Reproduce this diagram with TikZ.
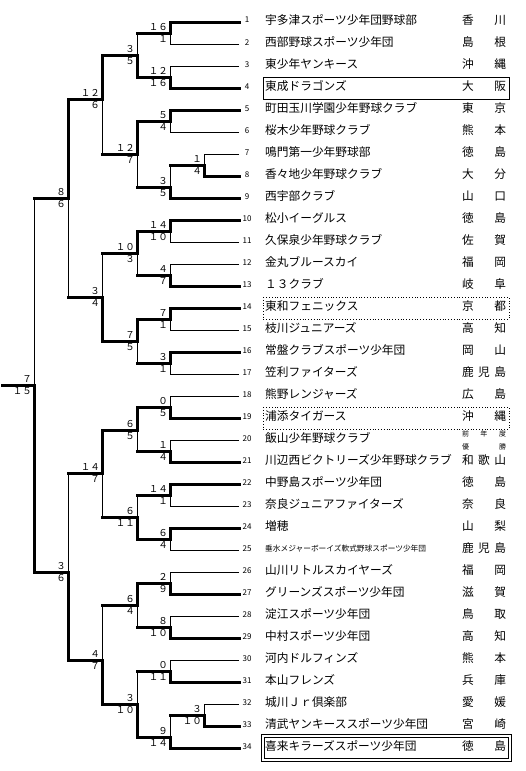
\documentclass[tikz,border=0pt]{standalone}
\usepackage{fontspec}
\setmainfont{Noto Sans CJK JP}
\newcommand{\ken}[1]{\makebox[44pt][s]{#1}}

\begin{document}
\begin{tikzpicture}[
    x=1pt, y=-1pt,
    team/.style={anchor=base west, yshift=-2.5pt, inner sep=0pt, font=\fontsize{11.7}{11.7}\selectfont},
    teamsmall/.style={team, font=\fontsize{7.7}{7.7}\selectfont, yshift=1pt},
    teamno/.style={anchor=base, yshift=-1pt, inner sep=0pt, font=\fontsize{8}{8}\selectfont},
    pref/.style={anchor=base, yshift=-2.5pt, inner sep=0pt, font=\fontsize{11.7}{11.7}\selectfont},
    note/.style={anchor=base, inner sep=0pt, font=\fontsize{7}{7}\selectfont},
    score/.style={inner sep=0pt, font=\fontsize{9.5}{9.5}\selectfont},
    up/.style={score, above left=2pt},
    dn/.style={score, below left=2pt},
    win/.style={line width=3pt, line cap=rect},
    lose/.style={line width=0.9pt},
    dotbox/.style={line width=0.8pt, dotted}
]
\fill[white] (0,0) rectangle (526,771);
\useasboundingbox (0,0) rectangle (526,771);

% Teams: leaf end, number, name, prefecture
\coordinate (l1) at (239,22); \node[teamno] (n1) at (247,22) {1}; \node[team] (t1) at (265,22) {宇多津スポーツ少年団野球部}; \node[pref] (p1) at (484,22) {\ken{香\hfill 川}};
\coordinate (l2) at (239,44); \node[teamno] (n2) at (247,44) {2}; \node[team] (t2) at (265,44) {西部野球スポーツ少年団}; \node[pref] (p2) at (484,44) {\ken{島\hfill 根}};
\coordinate (l3) at (239,66); \node[teamno] (n3) at (247,66) {3}; \node[team] (t3) at (265,66) {東少年ヤンキース}; \node[pref] (p3) at (484,66) {\ken{沖\hfill 縄}};
\coordinate (l4) at (239,88); \node[teamno] (n4) at (247,88) {4}; \node[team] (t4) at (265,88) {東成ドラゴンズ}; \node[pref] (p4) at (484,88) {\ken{大\hfill 阪}};
\coordinate (l5) at (239,110); \node[teamno] (n5) at (247,110) {5}; \node[team] (t5) at (265,110) {町田玉川学園少年野球クラブ}; \node[pref] (p5) at (484,110) {\ken{東\hfill 京}};
\coordinate (l6) at (239,132); \node[teamno] (n6) at (247,132) {6}; \node[team] (t6) at (265,132) {桜木少年野球クラブ}; \node[pref] (p6) at (484,132) {\ken{熊\hfill 本}};
\coordinate (l7) at (239,154); \node[teamno] (n7) at (247,154) {7}; \node[team] (t7) at (265,154) {鳴門第一少年野球部}; \node[pref] (p7) at (484,154) {\ken{徳\hfill 島}};
\coordinate (l8) at (239,176); \node[teamno] (n8) at (247,176) {8}; \node[team] (t8) at (265,176) {香々地少年野球クラブ}; \node[pref] (p8) at (484,176) {\ken{大\hfill 分}};
\coordinate (l9) at (239,198); \node[teamno] (n9) at (247,198) {9}; \node[team] (t9) at (265,198) {西宇部クラブ}; \node[pref] (p9) at (484,198) {\ken{山\hfill 口}};
\coordinate (l10) at (239,220); \node[teamno] (n10) at (247,220) {10}; \node[team] (t10) at (265,220) {松小イーグルス}; \node[pref] (p10) at (484,220) {\ken{徳\hfill 島}};
\coordinate (l11) at (239,242); \node[teamno] (n11) at (247,242) {11}; \node[team] (t11) at (265,242) {久保泉少年野球クラブ}; \node[pref] (p11) at (484,242) {\ken{佐\hfill 賀}};
\coordinate (l12) at (239,264); \node[teamno] (n12) at (247,264) {12}; \node[team] (t12) at (265,264) {金丸ブルースカイ}; \node[pref] (p12) at (484,264) {\ken{福\hfill 岡}};
\coordinate (l13) at (239,286); \node[teamno] (n13) at (247,286) {13}; \node[team] (t13) at (265,286) {１３クラブ}; \node[pref] (p13) at (484,286) {\ken{岐\hfill 阜}};
\coordinate (l14) at (239,308); \node[teamno] (n14) at (247,308) {14}; \node[team] (t14) at (265,308) {東和フェニックス}; \node[pref] (p14) at (484,308) {\ken{京\hfill 都}};
\coordinate (l15) at (239,330); \node[teamno] (n15) at (247,330) {15}; \node[team] (t15) at (265,330) {枝川ジュニアーズ}; \node[pref] (p15) at (484,330) {\ken{高\hfill 知}};
\coordinate (l16) at (239,352); \node[teamno] (n16) at (247,352) {16}; \node[team] (t16) at (265,352) {常盤クラブスポーツ少年団}; \node[pref] (p16) at (484,352) {\ken{岡\hfill 山}};
\coordinate (l17) at (239,374); \node[teamno] (n17) at (247,374) {17}; \node[team] (t17) at (265,374) {笠利ファイターズ}; \node[pref] (p17) at (484,374) {\ken{鹿\hfill 児\hfill 島}};
\coordinate (l18) at (239,396); \node[teamno] (n18) at (247,396) {18}; \node[team] (t18) at (265,396) {熊野レンジャーズ}; \node[pref] (p18) at (484,396) {\ken{広\hfill 島}};
\coordinate (l19) at (239,418); \node[teamno] (n19) at (247,418) {19}; \node[team] (t19) at (265,418) {浦添タイガース}; \node[pref] (p19) at (484,418) {\ken{沖\hfill 縄}};
\coordinate (l20) at (239,440); \node[teamno] (n20) at (247,440) {20}; \node[team] (t20) at (265,440) {飯山少年野球クラブ};
\node[note] (p20a) at (484,436) {\ken{前\hfill 年\hfill 度}}; \node[note] (p20b) at (484,449) {\ken{優\hfill 勝}};
\coordinate (l21) at (239,462); \node[teamno] (n21) at (247,462) {21}; \node[team] (t21) at (265,462) {川辺西ビクトリーズ少年野球クラブ}; \node[pref] (p21) at (484,462) {\ken{和\hfill 歌\hfill 山}};
\coordinate (l22) at (239,484); \node[teamno] (n22) at (247,484) {22}; \node[team] (t22) at (265,484) {中野島スポーツ少年団}; \node[pref] (p22) at (484,484) {\ken{徳\hfill 島}};
\coordinate (l23) at (239,506); \node[teamno] (n23) at (247,506) {23}; \node[team] (t23) at (265,506) {奈良ジュニアファイターズ}; \node[pref] (p23) at (484,506) {\ken{奈\hfill 良}};
\coordinate (l24) at (239,528); \node[teamno] (n24) at (247,528) {24}; \node[team] (t24) at (265,528) {増穂}; \node[pref] (p24) at (484,528) {\ken{山\hfill 梨}};
\coordinate (l25) at (239,550); \node[teamno] (n25) at (247,550) {25}; \node[teamsmall] (t25) at (265,550) {垂水メジャーボーイズ軟式野球スポーツ少年団}; \node[pref] (p25) at (484,550) {\ken{鹿\hfill 児\hfill 島}};
\coordinate (l26) at (239,572); \node[teamno] (n26) at (247,572) {26}; \node[team] (t26) at (265,572) {山川リトルスカイヤーズ}; \node[pref] (p26) at (484,572) {\ken{福\hfill 岡}};
\coordinate (l27) at (239,594); \node[teamno] (n27) at (247,594) {27}; \node[team] (t27) at (265,594) {グリーンズスポーツ少年団}; \node[pref] (p27) at (484,594) {\ken{滋\hfill 賀}};
\coordinate (l28) at (239,616); \node[teamno] (n28) at (247,616) {28}; \node[team] (t28) at (265,616) {淀江スポーツ少年団}; \node[pref] (p28) at (484,616) {\ken{鳥\hfill 取}};
\coordinate (l29) at (239,638); \node[teamno] (n29) at (247,638) {29}; \node[team] (t29) at (265,638) {中村スポーツ少年団}; \node[pref] (p29) at (484,638) {\ken{高\hfill 知}};
\coordinate (l30) at (239,660); \node[teamno] (n30) at (247,660) {30}; \node[team] (t30) at (265,660) {河内ドルフィンズ}; \node[pref] (p30) at (484,660) {\ken{熊\hfill 本}};
\coordinate (l31) at (239,682); \node[teamno] (n31) at (247,682) {31}; \node[team] (t31) at (265,682) {本山フレンズ}; \node[pref] (p31) at (484,682) {\ken{兵\hfill 庫}};
\coordinate (l32) at (239,704); \node[teamno] (n32) at (247,704) {32}; \node[team] (t32) at (265,704) {城川Ｊｒ倶楽部}; \node[pref] (p32) at (484,704) {\ken{愛\hfill 媛}};
\coordinate (l33) at (239,726); \node[teamno] (n33) at (247,726) {33}; \node[team] (t33) at (265,726) {清武ヤンキーススポーツ少年団}; \node[pref] (p33) at (484,726) {\ken{宮\hfill 崎}};
\coordinate (l34) at (239,748); \node[teamno] (n34) at (247,748) {34}; \node[team] (t34) at (265,748) {喜来キラーズスポーツ少年団}; \node[pref] (p34) at (484,748) {\ken{徳\hfill 島}};

% Highlight boxes
\draw[lose] (263,77) rectangle (509,99);
\draw[dotbox] (263,297) rectangle (509,319);
\draw[dotbox] (263,407) rectangle (509,429);
\draw[lose] (261,734) rectangle (511,761);
\draw[lose] (264,737) rectangle (508,758);

% Match points with scores (top / bottom)
\coordinate (m12) at (170,33); \node[up] (m12a) at (m12) {１６}; \node[dn] (m12b) at (m12) {１};
\coordinate (m34) at (170,77); \node[up] (m34a) at (m34) {１２}; \node[dn] (m34b) at (m34) {１６};
\coordinate (m56) at (170,121); \node[up] (m56a) at (m56) {５}; \node[dn] (m56b) at (m56) {４};
\coordinate (m78) at (204,165); \node[up] (m78a) at (m78) {１}; \node[dn] (m78b) at (m78) {４};
\coordinate (m789) at (170,187); \node[up] (m789a) at (m789) {３}; \node[dn] (m789b) at (m789) {５};
\coordinate (m1011) at (170,231); \node[up] (m1011a) at (m1011) {１４}; \node[dn] (m1011b) at (m1011) {１０};
\coordinate (m1213) at (170,275); \node[up] (m1213a) at (m1213) {４}; \node[dn] (m1213b) at (m1213) {７};
\coordinate (m1415) at (170,319); \node[up] (m1415a) at (m1415) {７}; \node[dn] (m1415b) at (m1415) {１};
\coordinate (m1617) at (170,363); \node[up] (m1617a) at (m1617) {３}; \node[dn] (m1617b) at (m1617) {１};
\coordinate (m1819) at (170,407); \node[up] (m1819a) at (m1819) {０}; \node[dn] (m1819b) at (m1819) {５};
\coordinate (m2021) at (170,451); \node[up] (m2021a) at (m2021) {１}; \node[dn] (m2021b) at (m2021) {４};
\coordinate (m2223) at (170,495); \node[up] (m2223a) at (m2223) {１４}; \node[dn] (m2223b) at (m2223) {１};
\coordinate (m2425) at (170,539); \node[up] (m2425a) at (m2425) {６}; \node[dn] (m2425b) at (m2425) {４};
\coordinate (m2627) at (170,583); \node[up] (m2627a) at (m2627) {２}; \node[dn] (m2627b) at (m2627) {９};
\coordinate (m2829) at (170,627); \node[up] (m2829a) at (m2829) {８}; \node[dn] (m2829b) at (m2829) {１０};
\coordinate (m3031) at (170,671); \node[up] (m3031a) at (m3031) {０}; \node[dn] (m3031b) at (m3031) {１１};
\coordinate (m3233) at (204,715); \node[up] (m3233a) at (m3233) {３}; \node[dn] (m3233b) at (m3233) {１０};
\coordinate (m3234) at (170,737); \node[up] (m3234a) at (m3234) {９}; \node[dn] (m3234b) at (m3234) {１４};
\coordinate (q1) at (137,55); \node[up] (q1a) at (q1) {３}; \node[dn] (q1b) at (q1) {５};
\coordinate (q2) at (137,154); \node[up] (q2a) at (q2) {１２}; \node[dn] (q2b) at (q2) {７};
\coordinate (q3) at (137,253); \node[up] (q3a) at (q3) {１０}; \node[dn] (q3b) at (q3) {３};
\coordinate (q4) at (137,341); \node[up] (q4a) at (q4) {７}; \node[dn] (q4b) at (q4) {５};
\coordinate (q5) at (137,430); \node[up] (q5a) at (q5) {６}; \node[dn] (q5b) at (q5) {５};
\coordinate (q6) at (137,517); \node[up] (q6a) at (q6) {６}; \node[dn] (q6b) at (q6) {１１};
\coordinate (q7) at (137,605); \node[up] (q7a) at (q7) {６}; \node[dn] (q7b) at (q7) {４};
\coordinate (q8) at (137,704); \node[up] (q8a) at (q8) {３}; \node[dn] (q8b) at (q8) {１０};
\coordinate (s1) at (102,99); \node[up] (s1a) at (s1) {１２}; \node[dn] (s1b) at (s1) {６};
\coordinate (s2) at (102,297); \node[up] (s2a) at (s2) {３}; \node[dn] (s2b) at (s2) {４};
\coordinate (s3) at (102,473); \node[up] (s3a) at (s3) {１４}; \node[dn] (s3b) at (s3) {７};
\coordinate (s4) at (102,660); \node[up] (s4a) at (s4) {４}; \node[dn] (s4b) at (s4) {７};
\coordinate (f1) at (68,198); \node[up] (f1a) at (f1) {８}; \node[dn] (f1b) at (f1) {６};
\coordinate (f2) at (68,572); \node[up] (f2a) at (f2) {３}; \node[dn] (f2b) at (f2) {６};
\coordinate (final) at (34,385); \node[up] (finala) at (final) {７}; \node[dn] (finalb) at (final) {１５};
\coordinate (root) at (2,385);

% First round (losers thin)
\draw[lose] (l2) -| (m12);
\draw[lose] (l3) -| (m34);
\draw[lose] (l6) -| (m56);
\draw[lose] (l7) -| (m78);
\draw[lose] (l11) -| (m1011);
\draw[lose] (l12) -| (m1213);
\draw[lose] (l15) -| (m1415);
\draw[lose] (l17) -| (m1617);
\draw[lose] (l18) -| (m1819);
\draw[lose] (l20) -| (m2021);
\draw[lose] (l23) -| (m2223);
\draw[lose] (l25) -| (m2425);
\draw[lose] (l26) -| (m2627);
\draw[lose] (l28) -| (m2829);
\draw[lose] (l30) -| (m3031);
\draw[lose] (l32) -| (m3233);

% Beaten winners: thick feed, thin climb
\draw[win] (m78) -- (m78 -| m789);     \draw[lose] (m78 -| m789) -- (m789);
\draw[win] (m3233) -- (m3233 -| m3234); \draw[lose] (m3233 -| m3234) -- (m3234);
\draw[win] (m12) -- (m12 -| q1);       \draw[lose] (m12 -| q1) -- (q1);
\draw[win] (m789) -- (m789 -| q2);     \draw[lose] (m789 -| q2) -- (q2);
\draw[win] (m1213) -- (m1213 -| q3);   \draw[lose] (m1213 -| q3) -- (q3);
\draw[win] (m1617) -- (m1617 -| q4);   \draw[lose] (m1617 -| q4) -- (q4);
\draw[win] (m2021) -- (m2021 -| q5);   \draw[lose] (m2021 -| q5) -- (q5);
\draw[win] (m2223) -- (m2223 -| q6);   \draw[lose] (m2223 -| q6) -- (q6);
\draw[win] (m2829) -- (m2829 -| q7);   \draw[lose] (m2829 -| q7) -- (q7);
\draw[win] (m3031) -- (m3031 -| q8);   \draw[lose] (m3031 -| q8) -- (q8);
\draw[win] (q2) -- (q2 -| s1);         \draw[lose] (q2 -| s1) -- (s1);
\draw[win] (q3) -- (q3 -| s2);         \draw[lose] (q3 -| s2) -- (s2);
\draw[win] (q6) -- (q6 -| s3);         \draw[lose] (q6 -| s3) -- (s3);
\draw[win] (q7) -- (q7 -| s4);         \draw[lose] (q7 -| s4) -- (s4);
\draw[win] (s2) -- (s2 -| f1);         \draw[lose] (s2 -| f1) -- (f1);
\draw[win] (s3) -- (s3 -| f2);         \draw[lose] (s3 -| f2) -- (f2);
\draw[win] (f1) -- (f1 -| final);      \draw[lose] (f1 -| final) -- (final);

% Winning paths (thick)
\draw[win] (l1) -| (m12);
\draw[win] (l4) -| (m34);
\draw[win] (l5) -| (m56);
\draw[win] (l8) -| (m78);
\draw[win] (l9) -| (m789);
\draw[win] (l10) -| (m1011);
\draw[win] (l13) -| (m1213);
\draw[win] (l14) -| (m1415);
\draw[win] (l16) -| (m1617);
\draw[win] (l19) -| (m1819);
\draw[win] (l21) -| (m2021);
\draw[win] (l22) -| (m2223);
\draw[win] (l24) -| (m2425);
\draw[win] (l27) -| (m2627);
\draw[win] (l29) -| (m2829);
\draw[win] (l31) -| (m3031);
\draw[win] (l33) -| (m3233);
\draw[win] (l34) -| (m3234);
\draw[win] (m34) -| (q1);
\draw[win] (m56) -| (q2);
\draw[win] (m1011) -| (q3);
\draw[win] (m1415) -| (q4);
\draw[win] (m1819) -| (q5);
\draw[win] (m2425) -| (q6);
\draw[win] (m2627) -| (q7);
\draw[win] (m3234) -| (q8);
\draw[win] (q1) -| (s1);
\draw[win] (q4) -| (s2);
\draw[win] (q5) -| (s3);
\draw[win] (q8) -| (s4);
\draw[win] (s1) -| (f1);
\draw[win] (s4) -| (f2);
\draw[win] (f2) -| (final);
\draw[win] (final) -- (root);

\end{tikzpicture}
\end{document}
